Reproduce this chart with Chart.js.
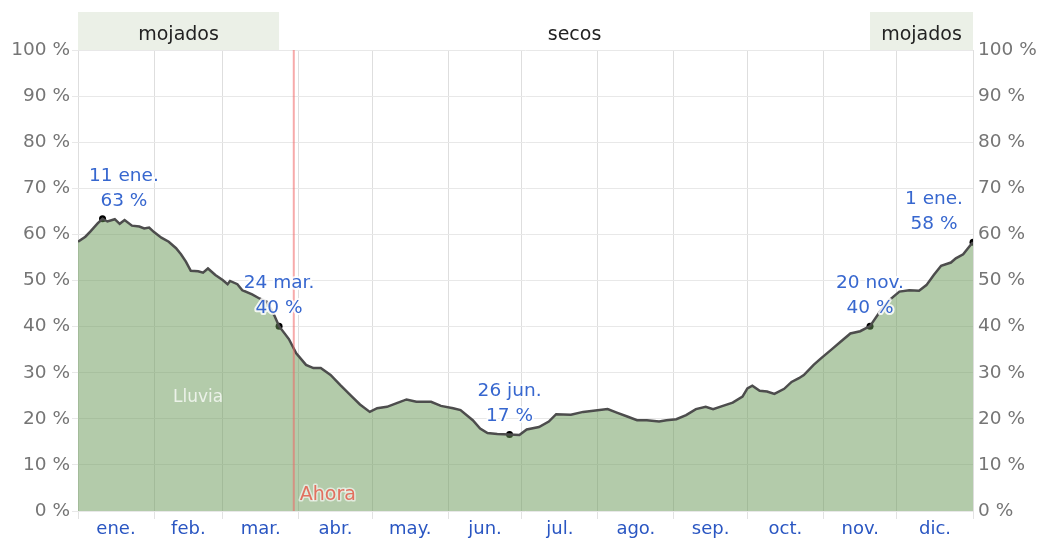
<!DOCTYPE html>
<html>
<head>
<meta charset="utf-8">
<script src="https://cdn.jsdelivr.net/npm/chart.js@4.4.0/dist/chart.umd.min.js"></script>
<style>
  html, body { margin: 0; padding: 0; background: #fff; }
  #wrap { width: 1041px; height: 539px; position: relative; }
</style>
</head>
<body>
<div id="wrap"><canvas id="chart-lluvia"></canvas></div>
<script>
// day of year (0 = 1 ene.) and chance of rain (%)
const days = [0, 3, 5, 8, 10, 12, 15, 17, 19, 22, 25, 27, 29, 31, 34, 37, 40, 42, 44, 46,
  49, 51, 53, 56, 59, 61, 62, 65, 67, 71, 74, 77, 80, 82, 86, 89, 93, 96, 99, 103,
  107, 111, 115, 119, 122, 126, 130, 134, 138, 144, 148, 153, 156, 161, 164, 167, 171, 176, 180, 183,
  188, 192, 195, 201, 206, 211, 216, 220, 224, 228, 232, 237, 240, 244, 248, 252, 256, 259, 263, 267,
  271, 273, 275, 278, 281, 284, 288, 291, 294, 296, 300, 303, 307, 311, 315, 319, 323, 327, 331, 335,
  339, 343, 346, 349, 352, 356, 358, 361, 364, 365];
const rain = [58.4, 59.5, 60.6, 62.4, 63.4, 62.8, 63.3, 62.3, 63.1, 61.9, 61.7, 61.3, 61.5, 60.5, 59.3, 58.4, 57.0, 55.7, 54.1, 52.1,
  52.0, 51.7, 52.6, 51.2, 50.1, 49.2, 49.9, 49.2, 47.9, 47.0, 46.1, 45.4, 42.5, 40.1, 37.3, 34.2, 31.7, 31.0, 31.0, 29.5,
  27.3, 25.2, 23.1, 21.5, 22.3, 22.6, 23.4, 24.2, 23.7, 23.7, 22.8, 22.3, 21.9, 19.7, 17.9, 16.9, 16.7, 16.6, 16.5, 17.7,
  18.2, 19.4, 21.0, 20.9, 21.5, 21.8, 22.1, 21.3, 20.5, 19.7, 19.7, 19.4, 19.7, 19.9, 20.8, 22.1, 22.6, 22.1, 22.8, 23.5,
  24.8, 26.6, 27.2, 26.1, 25.9, 25.4, 26.5, 28.0, 28.8, 29.5, 31.7, 33.1, 34.9, 36.7, 38.5, 39.0, 40.1, 43.2, 45.8, 47.6,
  47.9, 47.8, 49.0, 51.2, 53.2, 53.9, 54.8, 55.7, 57.7, 58.3];

const monthStarts = [0, 31, 59, 90, 120, 151, 181, 212, 243, 273, 304, 334, 365];
const monthLabels = ['ene.', 'feb.', 'mar.', 'abr.', 'may.', 'jun.', 'jul.', 'ago.', 'sep.', 'oct.', 'nov.', 'dic.'];
const yTicks = [0, 10, 20, 30, 40, 50, 60, 70, 80, 90, 100];

// highs and lows marked on the curve
const extremeDays = [10, 82, 176, 323, 365];
const extremeDates = ['11 ene.', '24 mar.', '26 jun.', '20 nov.', '1 ene.'];

// wet / dry season bands along the top
const bandStarts = [0, 82, 323];
const bandEnds = [82, 323, 365];
const bandLabels = ['mojados', 'secos', 'mojados'];
const bandShaded = [true, false, true];

const nowDay = 88;
const seriesName = 'Lluvia';

const FONT = 'DejaVu Sans';
const BLUE = '#2a56c2';

const monthMids = monthStarts.slice(0, -1).map((d, i) => (d + monthStarts[i + 1]) / 2);
const extremeValues = extremeDays.map(d => rain[days.indexOf(d)]);

const overlay = {
  id: 'overlay',
  beforeDraw(chart) {
    const { ctx, chartArea: { top }, scales: { x } } = chart;
    ctx.save();
    ctx.font = `19px "${FONT}"`;
    ctx.textAlign = 'center';
    ctx.textBaseline = 'middle';
    bandStarts.forEach((s, i) => {
      const x0 = x.getPixelForValue(s);
      const x1 = x.getPixelForValue(bandEnds[i]);
      if (bandShaded[i]) {
        ctx.fillStyle = '#ebf0e7';
        ctx.fillRect(x0, top - 38, x1 - x0, 38);
      }
      ctx.fillStyle = '#222';
      ctx.fillText(bandLabels[i], (x0 + x1) / 2, top - 15);
    });
    ctx.restore();
  },
  afterDatasetsDraw(chart) {
    const { ctx, chartArea: { left, right, top, bottom }, scales: { x, y } } = chart;
    ctx.save();

    // "Ahora" marker
    const nx = x.getPixelForValue(nowDay);
    ctx.strokeStyle = 'rgba(240, 100, 100, 0.55)';
    ctx.lineWidth = 2;
    ctx.beginPath();
    ctx.moveTo(nx, top);
    ctx.lineTo(nx, bottom);
    ctx.stroke();

    ctx.lineJoin = 'round';
    ctx.font = `19px "${FONT}"`;
    ctx.textAlign = 'left';
    ctx.textBaseline = 'middle';
    ctx.strokeStyle = 'rgba(255,255,255,0.6)';
    ctx.lineWidth = 3;
    ctx.strokeText('Ahora', nx + 6, bottom - 16);
    ctx.fillStyle = '#e2705f';
    ctx.fillText('Ahora', nx + 6, bottom - 16);

    // series name inside the area
    ctx.font = `17px "${FONT}"`;
    ctx.textAlign = 'center';
    ctx.fillStyle = 'rgba(255,255,255,0.75)';
    ctx.fillText(seriesName, x.getPixelForValue(49), y.getPixelForValue(24.6));

    // extreme labels
    ctx.font = `18.5px "${FONT}"`;
    extremeDays.forEach((d, i) => {
      const px = x.getPixelForValue(d);
      const py = y.getPixelForValue(extremeValues[i]);
      const lines = [extremeDates[i], Math.round(extremeValues[i]) + ' %'];
      const w = Math.max(...lines.map(t => ctx.measureText(t).width));
      const cx = Math.min(Math.max(px, left + 11 + w / 2), right - 10 - w / 2);
      lines.forEach((t, j) => {
        const ly = py - 43 + j * 25;
        ctx.strokeStyle = 'rgba(255,255,255,0.85)';
        ctx.lineWidth = 4;
        ctx.strokeText(t, cx, ly);
        ctx.fillStyle = '#3767cf';
        ctx.fillText(t, cx, ly);
      });
    });
    ctx.restore();
  }
};

new Chart(document.getElementById('chart-lluvia').getContext('2d'), {
  type: 'line',
  data: {
    datasets: [
      {
        label: seriesName,
        data: days.map((d, i) => ({ x: d, y: rain[i] })),
        fill: 'origin',
        backgroundColor: 'rgba(104, 152, 86, 0.5)',
        borderColor: '#4d4d4d',
        borderWidth: 2.5,
        pointRadius: 0,
        tension: 0
      },
      {
        label: 'extremos',
        data: extremeDays.map((d, i) => ({ x: d, y: extremeValues[i] })),
        showLine: false,
        pointRadius: 3.5,
        pointBackgroundColor: '#000',
        pointBorderWidth: 0
      }
    ]
  },
  options: {
    responsive: true,
    maintainAspectRatio: false,
    animation: false,
    layout: { padding: { top: 50, left: 0, right: 0, bottom: 0 } },
    plugins: {
      legend: { display: false },
      tooltip: { enabled: false }
    },
    scales: {
      x: {
        type: 'linear',
        position: 'bottom',
        min: 0,
        max: 365,
        afterBuildTicks: s => { s.ticks = monthStarts.map(v => ({ value: v })); },
        afterFit: s => { s.height = 0; },
        grid: { color: '#dedede', tickColor: '#e2e2e2', tickLength: 8 },
        border: { display: false },
        ticks: { callback: () => '' }
      },
      xl: {
        type: 'linear',
        position: 'bottom',
        min: 0,
        max: 365,
        afterBuildTicks: s => { s.ticks = monthMids.map(v => ({ value: v })); },
        afterFit: s => { s.height = 28; },
        grid: { display: false, drawTicks: false },
        border: { display: false },
        ticks: {
          callback: (v, i) => monthLabels[i],
          color: BLUE,
          font: { family: FONT, size: 18 },
          padding: 8,
          maxRotation: 0,
          autoSkip: false
        }
      },
      y: {
        position: 'left',
        min: 0,
        max: 100,
        afterBuildTicks: s => { s.ticks = yTicks.map(v => ({ value: v })); },
        afterFit: s => { s.width = 78; },
        grid: { color: '#e8e8e8', tickColor: '#e8e8e8', tickLength: 6 },
        border: { display: false },
        ticks: {
          callback: v => v + ' %',
          color: '#757575',
          font: { family: FONT, size: 18.5 },
          padding: 2
        }
      },
      y2: {
        position: 'right',
        min: 0,
        max: 100,
        afterBuildTicks: s => { s.ticks = yTicks.map(v => ({ value: v })); },
        afterFit: s => { s.width = 68; },
        grid: { display: false, drawTicks: false },
        border: { display: false },
        ticks: {
          callback: v => v + ' %',
          color: '#757575',
          font: { family: FONT, size: 18.5 },
          padding: 5
        }
      }
    }
  },
  plugins: [overlay]
});
</script>
</body>
</html>
